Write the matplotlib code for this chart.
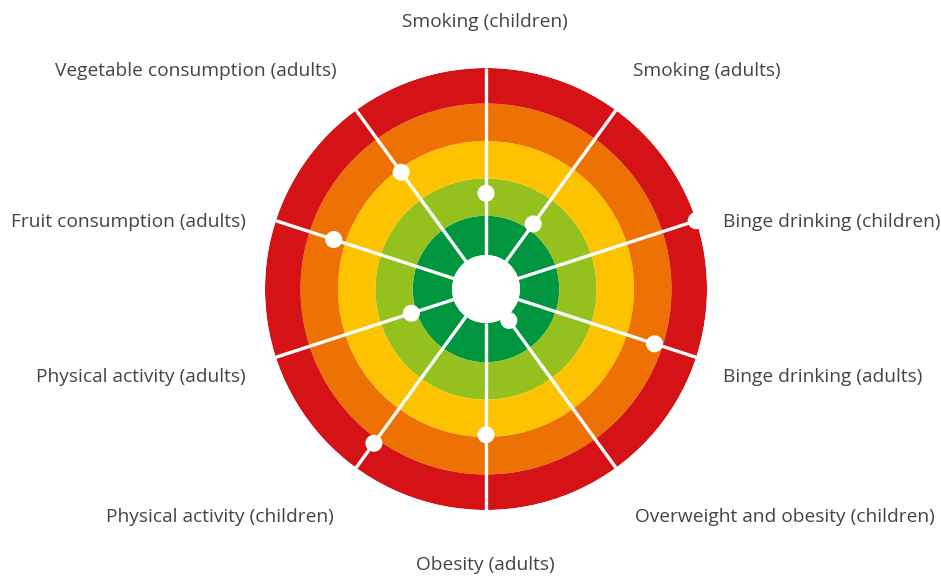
import numpy as np
import matplotlib
matplotlib.use("Agg")
import matplotlib.pyplot as plt

# ── data ──────────────────────────────────────────────────────
indicators = [
    "Smoking (children)",
    "Smoking (adults)",
    "Binge drinking (children)",
    "Binge drinking (adults)",
    "Overweight and obesity (children)",
    "Obesity (adults)",
    "Physical activity (children)",
    "Physical activity (adults)",
    "Fruit consumption (adults)",
    "Vegetable consumption (adults)",
]
angles_deg = [90, 54, 18, -18, -54, -90, -126, -162, 162, 126]
# score on a 0 (inner edge) .. 5 (outer edge) scale
scores = [1.65, 1.24, 5.0, 3.83, 0.13, 2.99, 4.19, 1.19, 3.37, 2.95]

# ring bands (score limits) and their colours
ring_edges = [0, 1.05, 2.05, 3.05, 4.05, 5]
ring_colors = ["#009640", "#95c11f", "#fec300", "#ee7203", "#d51317"]

# label layout (pixel centre, alignment)
W, H = 941, 576
label_pos = [
    (485, 22, "center"),
    (707, 71, "center"),
    (723, 222, "left"),
    (723, 377, "left"),
    (785, 517, "center"),
    (485, 565, "center"),
    (220, 517, "center"),
    (246, 377, "right"),
    (246, 222, "right"),
    (196, 71, "center"),
]

# ── figure ────────────────────────────────────────────────────
fig = plt.figure(figsize=(W / 100, H / 100), dpi=100)
cx, cy, R = 486, 289, 221
ax = fig.add_axes([(cx - R) / W, (H - cy - R) / H, 2 * R / W, 2 * R / H],
                  projection="polar")
ax.set_theta_zero_location("E")
ax.set_theta_direction(1)
ax.set_ylim(0, 5)
ax.set_rorigin(-0.909)   # leaves the white hole in the middle

for lo, hi, c in zip(ring_edges[:-1], ring_edges[1:], ring_colors):
    ax.bar(0, hi - lo, width=2 * np.pi, bottom=lo, color=c, edgecolor="none",
           linewidth=0, align="edge", zorder=1)

theta = np.deg2rad(angles_deg)
for t in theta:
    ax.plot([t, t], [0, 5], color="white", lw=2.4, solid_capstyle="butt",
            zorder=2, clip_on=False)

ax.scatter(theta, scores, s=150, color="white", edgecolor="none",
           zorder=3, clip_on=False)

ax.grid(False)
ax.set_xticks([])
ax.set_yticks([])
# polar axes re-enables the inner spine at draw time, so blank them instead
for sp in ax.spines.values():
    sp.set_linewidth(0)
    sp.set_edgecolor("none")
ax.patch.set_alpha(0)

for name, (px, py, ha) in zip(indicators, label_pos):
    fig.text(px / W, 1 - py / H, name, ha=ha, va="center",
             fontsize=13.8, color="#444444", family="Open Sans")

fig.savefig("out.png", dpi=100)
